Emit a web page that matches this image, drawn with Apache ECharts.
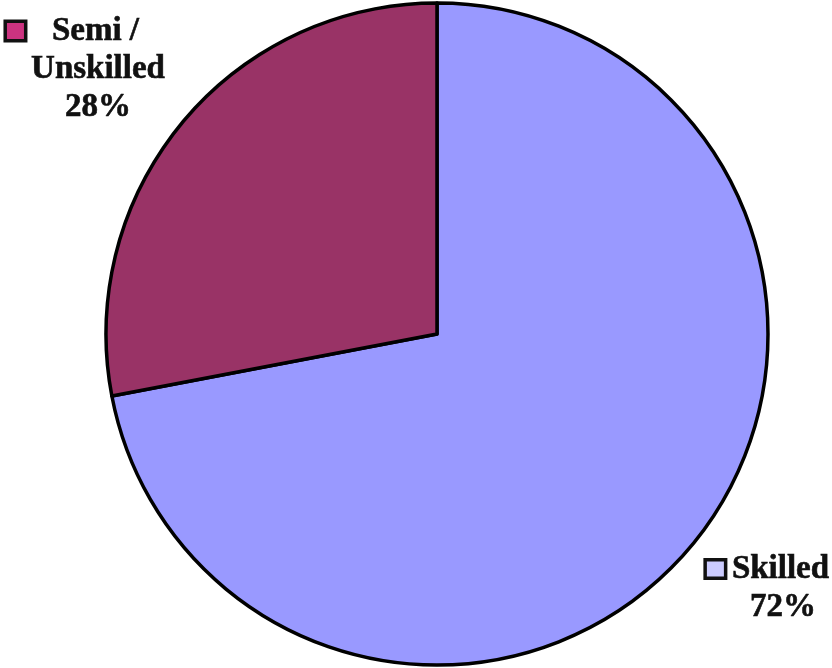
<!DOCTYPE html>
<html>
<head>
<meta charset="utf-8">
<script src="https://cdn.jsdelivr.net/npm/echarts@6/dist/echarts.min.js"></script>
<style>
html,body{margin:0;padding:0;background:#fff;}
#chart{width:832px;height:668px;}
</style>
</head>
<body>
<div id="chart"></div>
<script>
const categories = ['Skilled', 'Semi /\nUnskilled'];
const values = [72, 28];
const colors = ['#9999FF', '#993366'];
const markerColors = ['#CCCCFF', '#CC3380'];
const labelPos = [[783, 588], [98, 69]];

const chart = echarts.init(document.getElementById('chart'), null, {renderer: 'canvas'});

const font = '"Liberation Serif", "Times New Roman", serif';

function makeLabel(i) {
  const lines = categories[i].split('\n');
  let first = '{box' + i + '|}{gap' + i + '|}{txt|' + lines[0] + '}{sp' + i + '|}';
  let rest = lines.slice(1).map(l => '{txt|' + l + '}');
  return [first].concat(rest).concat(['{txt|' + values[i] + '%}']).join('\n');
}

const rich = {
  txt: {fontFamily: font, fontWeight: 'bold', fontSize: 33, color: '#111', lineHeight: 38,
        textBorderColor: '#111', textBorderWidth: 0.6},
  box0: {width: 17, height: 15, backgroundColor: markerColors[0], borderColor: '#111', borderWidth: 3.5},
  gap0: {width: 8},
  sp0: {width: 30},
  box1: {width: 17, height: 16, backgroundColor: markerColors[1], borderColor: '#111', borderWidth: 3.5},
  gap1: {width: 28},
  sp1: {width: 50}
};

chart.setOption({
  animation: false,
  backgroundColor: '#fff',
  series: [{
    type: 'pie',
    center: [437, 334],
    radius: 331,
    startAngle: 90,
    clockwise: true,
    data: categories.map((c, i) => ({
      name: c,
      value: values[i],
      itemStyle: {color: colors[i]},
      label: {formatter: makeLabel(i)}
    })),
    itemStyle: {borderColor: '#000', borderWidth: 3.5},
    label: {
      show: true,
      position: 'outside',
      align: 'center',
      overflow: 'none',
      alignTo: 'none',
      rich: rich
    },
    labelLine: {show: false},
    labelLayout: function (params) {
      const p = labelPos[params.dataIndex];
      return {x: p[0], y: p[1], align: 'center', verticalAlign: 'middle'};
    },
    emphasis: {disabled: true}
  }]
});
</script>
</body>
</html>
